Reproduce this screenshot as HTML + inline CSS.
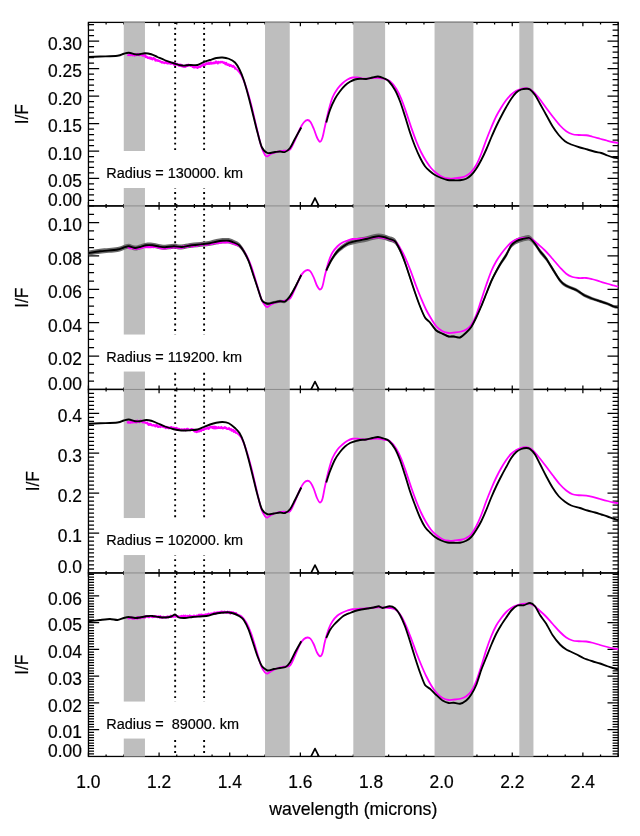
<!DOCTYPE html>
<html><head><meta charset="utf-8"><title>I/F spectra</title>
<style>html,body{margin:0;padding:0;background:#fff}svg{display:block;will-change:transform}</style></head>
<body>
<svg width="640" height="836" viewBox="0 0 640 836">
<rect width="640" height="836" fill="#fff"/>
<rect x="88.45" y="22.40" width="529.75" height="183.51" fill="none" stroke="#000" stroke-width="1.3"/>
<rect x="88.45" y="205.91" width="529.75" height="183.51" fill="none" stroke="#000" stroke-width="1.3"/>
<rect x="88.45" y="389.43" width="529.75" height="183.51" fill="none" stroke="#000" stroke-width="1.3"/>
<rect x="88.45" y="572.94" width="529.75" height="183.51" fill="none" stroke="#000" stroke-width="1.3"/>
<path d="M88.45,205.91 v-3.90 M88.45,22.40 v3.90 M106.11,205.91 v-2.00 M106.11,22.40 v2.00 M123.77,205.91 v-2.00 M123.77,22.40 v2.00 M141.42,205.91 v-2.00 M141.42,22.40 v2.00 M159.08,205.91 v-3.90 M159.08,22.40 v3.90 M176.74,205.91 v-2.00 M176.74,22.40 v2.00 M194.40,205.91 v-2.00 M194.40,22.40 v2.00 M212.06,205.91 v-2.00 M212.06,22.40 v2.00 M229.72,205.91 v-3.90 M229.72,22.40 v3.90 M247.38,205.91 v-2.00 M247.38,22.40 v2.00 M265.03,205.91 v-2.00 M265.03,22.40 v2.00 M282.69,205.91 v-2.00 M282.69,22.40 v2.00 M300.35,205.91 v-3.90 M300.35,22.40 v3.90 M318.01,205.91 v-2.00 M318.01,22.40 v2.00 M335.67,205.91 v-2.00 M335.67,22.40 v2.00 M353.32,205.91 v-2.00 M353.32,22.40 v2.00 M370.98,205.91 v-3.90 M370.98,22.40 v3.90 M388.64,205.91 v-2.00 M388.64,22.40 v2.00 M406.30,205.91 v-2.00 M406.30,22.40 v2.00 M423.96,205.91 v-2.00 M423.96,22.40 v2.00 M441.62,205.91 v-3.90 M441.62,22.40 v3.90 M459.27,205.91 v-2.00 M459.27,22.40 v2.00 M476.93,205.91 v-2.00 M476.93,22.40 v2.00 M494.59,205.91 v-2.00 M494.59,22.40 v2.00 M512.25,205.91 v-3.90 M512.25,22.40 v3.90 M529.91,205.91 v-2.00 M529.91,22.40 v2.00 M547.57,205.91 v-2.00 M547.57,22.40 v2.00 M565.23,205.91 v-2.00 M565.23,22.40 v2.00 M582.88,205.91 v-3.90 M582.88,22.40 v3.90 M600.54,205.91 v-2.00 M600.54,22.40 v2.00 M618.20,205.91 v-2.00 M618.20,22.40 v2.00 M88.45,200.42 h5.60 M618.20,200.42 h-5.60 M88.45,194.93 h5.60 M618.20,194.93 h-5.60 M88.45,189.44 h5.60 M618.20,189.44 h-5.60 M88.45,183.95 h5.60 M618.20,183.95 h-5.60 M88.45,178.46 h10.70 M618.20,178.46 h-10.70 M88.45,172.97 h5.60 M618.20,172.97 h-5.60 M88.45,167.48 h5.60 M618.20,167.48 h-5.60 M88.45,161.99 h5.60 M618.20,161.99 h-5.60 M88.45,156.50 h5.60 M618.20,156.50 h-5.60 M88.45,151.01 h10.70 M618.20,151.01 h-10.70 M88.45,145.52 h5.60 M618.20,145.52 h-5.60 M88.45,140.03 h5.60 M618.20,140.03 h-5.60 M88.45,134.54 h5.60 M618.20,134.54 h-5.60 M88.45,129.05 h5.60 M618.20,129.05 h-5.60 M88.45,123.56 h10.70 M618.20,123.56 h-10.70 M88.45,118.07 h5.60 M618.20,118.07 h-5.60 M88.45,112.58 h5.60 M618.20,112.58 h-5.60 M88.45,107.09 h5.60 M618.20,107.09 h-5.60 M88.45,101.60 h5.60 M618.20,101.60 h-5.60 M88.45,96.11 h10.70 M618.20,96.11 h-10.70 M88.45,90.62 h5.60 M618.20,90.62 h-5.60 M88.45,85.13 h5.60 M618.20,85.13 h-5.60 M88.45,79.64 h5.60 M618.20,79.64 h-5.60 M88.45,74.15 h5.60 M618.20,74.15 h-5.60 M88.45,68.66 h10.70 M618.20,68.66 h-10.70 M88.45,63.17 h5.60 M618.20,63.17 h-5.60 M88.45,57.68 h5.60 M618.20,57.68 h-5.60 M88.45,52.19 h5.60 M618.20,52.19 h-5.60 M88.45,46.70 h5.60 M618.20,46.70 h-5.60 M88.45,41.21 h10.70 M618.20,41.21 h-10.70 M88.45,35.72 h5.60 M618.20,35.72 h-5.60 M88.45,30.23 h5.60 M618.20,30.23 h-5.60 M88.45,24.74 h5.60 M618.20,24.74 h-5.60 M88.45,389.43 v-3.90 M88.45,205.91 v3.90 M106.11,389.43 v-2.00 M106.11,205.91 v2.00 M123.77,389.43 v-2.00 M123.77,205.91 v2.00 M141.42,389.43 v-2.00 M141.42,205.91 v2.00 M159.08,389.43 v-3.90 M159.08,205.91 v3.90 M176.74,389.43 v-2.00 M176.74,205.91 v2.00 M194.40,389.43 v-2.00 M194.40,205.91 v2.00 M212.06,389.43 v-2.00 M212.06,205.91 v2.00 M229.72,389.43 v-3.90 M229.72,205.91 v3.90 M247.38,389.43 v-2.00 M247.38,205.91 v2.00 M265.03,389.43 v-2.00 M265.03,205.91 v2.00 M282.69,389.43 v-2.00 M282.69,205.91 v2.00 M300.35,389.43 v-3.90 M300.35,205.91 v3.90 M318.01,389.43 v-2.00 M318.01,205.91 v2.00 M335.67,389.43 v-2.00 M335.67,205.91 v2.00 M353.32,389.43 v-2.00 M353.32,205.91 v2.00 M370.98,389.43 v-3.90 M370.98,205.91 v3.90 M388.64,389.43 v-2.00 M388.64,205.91 v2.00 M406.30,389.43 v-2.00 M406.30,205.91 v2.00 M423.96,389.43 v-2.00 M423.96,205.91 v2.00 M441.62,389.43 v-3.90 M441.62,205.91 v3.90 M459.27,389.43 v-2.00 M459.27,205.91 v2.00 M476.93,389.43 v-2.00 M476.93,205.91 v2.00 M494.59,389.43 v-2.00 M494.59,205.91 v2.00 M512.25,389.43 v-3.90 M512.25,205.91 v3.90 M529.91,389.43 v-2.00 M529.91,205.91 v2.00 M547.57,389.43 v-2.00 M547.57,205.91 v2.00 M565.23,389.43 v-2.00 M565.23,205.91 v2.00 M582.88,389.43 v-3.90 M582.88,205.91 v3.90 M600.54,389.43 v-2.00 M600.54,205.91 v2.00 M618.20,389.43 v-2.00 M618.20,205.91 v2.00 M88.45,381.09 h5.60 M618.20,381.09 h-5.60 M88.45,372.75 h5.60 M618.20,372.75 h-5.60 M88.45,364.41 h5.60 M618.20,364.41 h-5.60 M88.45,356.06 h10.70 M618.20,356.06 h-10.70 M88.45,347.73 h5.60 M618.20,347.73 h-5.60 M88.45,339.38 h5.60 M618.20,339.38 h-5.60 M88.45,331.05 h5.60 M618.20,331.05 h-5.60 M88.45,322.71 h10.70 M618.20,322.71 h-10.70 M88.45,314.37 h5.60 M618.20,314.37 h-5.60 M88.45,306.02 h5.60 M618.20,306.02 h-5.60 M88.45,297.69 h5.60 M618.20,297.69 h-5.60 M88.45,289.35 h10.70 M618.20,289.35 h-10.70 M88.45,281.00 h5.60 M618.20,281.00 h-5.60 M88.45,272.67 h5.60 M618.20,272.67 h-5.60 M88.45,264.33 h5.60 M618.20,264.33 h-5.60 M88.45,255.99 h10.70 M618.20,255.99 h-10.70 M88.45,247.65 h5.60 M618.20,247.65 h-5.60 M88.45,239.31 h5.60 M618.20,239.31 h-5.60 M88.45,230.97 h5.60 M618.20,230.97 h-5.60 M88.45,222.62 h10.70 M618.20,222.62 h-10.70 M88.45,214.29 h5.60 M618.20,214.29 h-5.60 M88.45,205.95 h5.60 M618.20,205.95 h-5.60 M88.45,572.94 v-3.90 M88.45,389.43 v3.90 M106.11,572.94 v-2.00 M106.11,389.43 v2.00 M123.77,572.94 v-2.00 M123.77,389.43 v2.00 M141.42,572.94 v-2.00 M141.42,389.43 v2.00 M159.08,572.94 v-3.90 M159.08,389.43 v3.90 M176.74,572.94 v-2.00 M176.74,389.43 v2.00 M194.40,572.94 v-2.00 M194.40,389.43 v2.00 M212.06,572.94 v-2.00 M212.06,389.43 v2.00 M229.72,572.94 v-3.90 M229.72,389.43 v3.90 M247.38,572.94 v-2.00 M247.38,389.43 v2.00 M265.03,572.94 v-2.00 M265.03,389.43 v2.00 M282.69,572.94 v-2.00 M282.69,389.43 v2.00 M300.35,572.94 v-3.90 M300.35,389.43 v3.90 M318.01,572.94 v-2.00 M318.01,389.43 v2.00 M335.67,572.94 v-2.00 M335.67,389.43 v2.00 M353.32,572.94 v-2.00 M353.32,389.43 v2.00 M370.98,572.94 v-3.90 M370.98,389.43 v3.90 M388.64,572.94 v-2.00 M388.64,389.43 v2.00 M406.30,572.94 v-2.00 M406.30,389.43 v2.00 M423.96,572.94 v-2.00 M423.96,389.43 v2.00 M441.62,572.94 v-3.90 M441.62,389.43 v3.90 M459.27,572.94 v-2.00 M459.27,389.43 v2.00 M476.93,572.94 v-2.00 M476.93,389.43 v2.00 M494.59,572.94 v-2.00 M494.59,389.43 v2.00 M512.25,572.94 v-3.90 M512.25,389.43 v3.90 M529.91,572.94 v-2.00 M529.91,389.43 v2.00 M547.57,572.94 v-2.00 M547.57,389.43 v2.00 M565.23,572.94 v-2.00 M565.23,389.43 v2.00 M582.88,572.94 v-3.90 M582.88,389.43 v3.90 M600.54,572.94 v-2.00 M600.54,389.43 v2.00 M618.20,572.94 v-2.00 M618.20,389.43 v2.00 M88.45,568.95 h5.60 M618.20,568.95 h-5.60 M88.45,564.96 h5.60 M618.20,564.96 h-5.60 M88.45,560.97 h5.60 M618.20,560.97 h-5.60 M88.45,556.98 h5.60 M618.20,556.98 h-5.60 M88.45,552.99 h5.60 M618.20,552.99 h-5.60 M88.45,549.00 h5.60 M618.20,549.00 h-5.60 M88.45,545.01 h5.60 M618.20,545.01 h-5.60 M88.45,541.02 h5.60 M618.20,541.02 h-5.60 M88.45,537.03 h5.60 M618.20,537.03 h-5.60 M88.45,533.04 h10.70 M618.20,533.04 h-10.70 M88.45,529.05 h5.60 M618.20,529.05 h-5.60 M88.45,525.06 h5.60 M618.20,525.06 h-5.60 M88.45,521.07 h5.60 M618.20,521.07 h-5.60 M88.45,517.08 h5.60 M618.20,517.08 h-5.60 M88.45,513.09 h5.60 M618.20,513.09 h-5.60 M88.45,509.10 h5.60 M618.20,509.10 h-5.60 M88.45,505.11 h5.60 M618.20,505.11 h-5.60 M88.45,501.12 h5.60 M618.20,501.12 h-5.60 M88.45,497.13 h5.60 M618.20,497.13 h-5.60 M88.45,493.14 h10.70 M618.20,493.14 h-10.70 M88.45,489.15 h5.60 M618.20,489.15 h-5.60 M88.45,485.16 h5.60 M618.20,485.16 h-5.60 M88.45,481.17 h5.60 M618.20,481.17 h-5.60 M88.45,477.18 h5.60 M618.20,477.18 h-5.60 M88.45,473.19 h5.60 M618.20,473.19 h-5.60 M88.45,469.20 h5.60 M618.20,469.20 h-5.60 M88.45,465.21 h5.60 M618.20,465.21 h-5.60 M88.45,461.22 h5.60 M618.20,461.22 h-5.60 M88.45,457.23 h5.60 M618.20,457.23 h-5.60 M88.45,453.24 h10.70 M618.20,453.24 h-10.70 M88.45,449.25 h5.60 M618.20,449.25 h-5.60 M88.45,445.26 h5.60 M618.20,445.26 h-5.60 M88.45,441.27 h5.60 M618.20,441.27 h-5.60 M88.45,437.28 h5.60 M618.20,437.28 h-5.60 M88.45,433.29 h5.60 M618.20,433.29 h-5.60 M88.45,429.30 h5.60 M618.20,429.30 h-5.60 M88.45,425.31 h5.60 M618.20,425.31 h-5.60 M88.45,421.32 h5.60 M618.20,421.32 h-5.60 M88.45,417.33 h5.60 M618.20,417.33 h-5.60 M88.45,413.34 h10.70 M618.20,413.34 h-10.70 M88.45,409.35 h5.60 M618.20,409.35 h-5.60 M88.45,405.36 h5.60 M618.20,405.36 h-5.60 M88.45,401.37 h5.60 M618.20,401.37 h-5.60 M88.45,397.38 h5.60 M618.20,397.38 h-5.60 M88.45,393.39 h5.60 M618.20,393.39 h-5.60 M88.45,756.45 v-3.90 M88.45,572.94 v3.90 M106.11,756.45 v-2.00 M106.11,572.94 v2.00 M123.77,756.45 v-2.00 M123.77,572.94 v2.00 M141.42,756.45 v-2.00 M141.42,572.94 v2.00 M159.08,756.45 v-3.90 M159.08,572.94 v3.90 M176.74,756.45 v-2.00 M176.74,572.94 v2.00 M194.40,756.45 v-2.00 M194.40,572.94 v2.00 M212.06,756.45 v-2.00 M212.06,572.94 v2.00 M229.72,756.45 v-3.90 M229.72,572.94 v3.90 M247.38,756.45 v-2.00 M247.38,572.94 v2.00 M265.03,756.45 v-2.00 M265.03,572.94 v2.00 M282.69,756.45 v-2.00 M282.69,572.94 v2.00 M300.35,756.45 v-3.90 M300.35,572.94 v3.90 M318.01,756.45 v-2.00 M318.01,572.94 v2.00 M335.67,756.45 v-2.00 M335.67,572.94 v2.00 M353.32,756.45 v-2.00 M353.32,572.94 v2.00 M370.98,756.45 v-3.90 M370.98,572.94 v3.90 M388.64,756.45 v-2.00 M388.64,572.94 v2.00 M406.30,756.45 v-2.00 M406.30,572.94 v2.00 M423.96,756.45 v-2.00 M423.96,572.94 v2.00 M441.62,756.45 v-3.90 M441.62,572.94 v3.90 M459.27,756.45 v-2.00 M459.27,572.94 v2.00 M476.93,756.45 v-2.00 M476.93,572.94 v2.00 M494.59,756.45 v-2.00 M494.59,572.94 v2.00 M512.25,756.45 v-3.90 M512.25,572.94 v3.90 M529.91,756.45 v-2.00 M529.91,572.94 v2.00 M547.57,756.45 v-2.00 M547.57,572.94 v2.00 M565.23,756.45 v-2.00 M565.23,572.94 v2.00 M582.88,756.45 v-3.90 M582.88,572.94 v3.90 M600.54,756.45 v-2.00 M600.54,572.94 v2.00 M618.20,756.45 v-2.00 M618.20,572.94 v2.00 M88.45,753.77 h5.60 M618.20,753.77 h-5.60 M88.45,751.09 h5.60 M618.20,751.09 h-5.60 M88.45,748.42 h5.60 M618.20,748.42 h-5.60 M88.45,745.74 h5.60 M618.20,745.74 h-5.60 M88.45,743.06 h5.60 M618.20,743.06 h-5.60 M88.45,740.38 h5.60 M618.20,740.38 h-5.60 M88.45,737.70 h5.60 M618.20,737.70 h-5.60 M88.45,735.03 h5.60 M618.20,735.03 h-5.60 M88.45,732.35 h5.60 M618.20,732.35 h-5.60 M88.45,729.67 h10.70 M618.20,729.67 h-10.70 M88.45,726.99 h5.60 M618.20,726.99 h-5.60 M88.45,724.31 h5.60 M618.20,724.31 h-5.60 M88.45,721.64 h5.60 M618.20,721.64 h-5.60 M88.45,718.96 h5.60 M618.20,718.96 h-5.60 M88.45,716.28 h5.60 M618.20,716.28 h-5.60 M88.45,713.60 h5.60 M618.20,713.60 h-5.60 M88.45,710.92 h5.60 M618.20,710.92 h-5.60 M88.45,708.25 h5.60 M618.20,708.25 h-5.60 M88.45,705.57 h5.60 M618.20,705.57 h-5.60 M88.45,702.89 h10.70 M618.20,702.89 h-10.70 M88.45,700.21 h5.60 M618.20,700.21 h-5.60 M88.45,697.53 h5.60 M618.20,697.53 h-5.60 M88.45,694.86 h5.60 M618.20,694.86 h-5.60 M88.45,692.18 h5.60 M618.20,692.18 h-5.60 M88.45,689.50 h5.60 M618.20,689.50 h-5.60 M88.45,686.82 h5.60 M618.20,686.82 h-5.60 M88.45,684.14 h5.60 M618.20,684.14 h-5.60 M88.45,681.47 h5.60 M618.20,681.47 h-5.60 M88.45,678.79 h5.60 M618.20,678.79 h-5.60 M88.45,676.11 h10.70 M618.20,676.11 h-10.70 M88.45,673.43 h5.60 M618.20,673.43 h-5.60 M88.45,670.75 h5.60 M618.20,670.75 h-5.60 M88.45,668.08 h5.60 M618.20,668.08 h-5.60 M88.45,665.40 h5.60 M618.20,665.40 h-5.60 M88.45,662.72 h5.60 M618.20,662.72 h-5.60 M88.45,660.04 h5.60 M618.20,660.04 h-5.60 M88.45,657.36 h5.60 M618.20,657.36 h-5.60 M88.45,654.69 h5.60 M618.20,654.69 h-5.60 M88.45,652.01 h5.60 M618.20,652.01 h-5.60 M88.45,649.33 h10.70 M618.20,649.33 h-10.70 M88.45,646.65 h5.60 M618.20,646.65 h-5.60 M88.45,643.97 h5.60 M618.20,643.97 h-5.60 M88.45,641.30 h5.60 M618.20,641.30 h-5.60 M88.45,638.62 h5.60 M618.20,638.62 h-5.60 M88.45,635.94 h5.60 M618.20,635.94 h-5.60 M88.45,633.26 h5.60 M618.20,633.26 h-5.60 M88.45,630.58 h5.60 M618.20,630.58 h-5.60 M88.45,627.91 h5.60 M618.20,627.91 h-5.60 M88.45,625.23 h5.60 M618.20,625.23 h-5.60 M88.45,622.55 h10.70 M618.20,622.55 h-10.70 M88.45,619.87 h5.60 M618.20,619.87 h-5.60 M88.45,617.19 h5.60 M618.20,617.19 h-5.60 M88.45,614.52 h5.60 M618.20,614.52 h-5.60 M88.45,611.84 h5.60 M618.20,611.84 h-5.60 M88.45,609.16 h5.60 M618.20,609.16 h-5.60 M88.45,606.48 h5.60 M618.20,606.48 h-5.60 M88.45,603.80 h5.60 M618.20,603.80 h-5.60 M88.45,601.13 h5.60 M618.20,601.13 h-5.60 M88.45,598.45 h5.60 M618.20,598.45 h-5.60 M88.45,595.77 h10.70 M618.20,595.77 h-10.70 M88.45,593.09 h5.60 M618.20,593.09 h-5.60 M88.45,590.41 h5.60 M618.20,590.41 h-5.60 M88.45,587.74 h5.60 M618.20,587.74 h-5.60 M88.45,585.06 h5.60 M618.20,585.06 h-5.60 M88.45,582.38 h5.60 M618.20,582.38 h-5.60 M88.45,579.70 h5.60 M618.20,579.70 h-5.60 M88.45,577.02 h5.60 M618.20,577.02 h-5.60 M88.45,574.35 h5.60 M618.20,574.35 h-5.60" stroke="#000" stroke-width="1.25" fill="none"/>
<rect x="123.77" y="21.55" width="21.19" height="735.00" fill="#bebebe"/>
<rect x="265.03" y="21.55" width="24.72" height="735.00" fill="#bebebe"/>
<rect x="353.32" y="21.55" width="31.79" height="735.00" fill="#bebebe"/>
<rect x="434.55" y="21.55" width="38.85" height="735.00" fill="#bebebe"/>
<rect x="519.31" y="21.55" width="14.13" height="735.00" fill="#bebebe"/>
<path d="M123.77,22.40 H144.96" stroke="#000" stroke-opacity="0.25" stroke-width="1.30"/>
<path d="M123.77,205.91 H144.96" stroke="#000" stroke-opacity="0.45" stroke-width="0.60"/>
<path d="M123.77,389.43 H144.96" stroke="#000" stroke-opacity="0.45" stroke-width="0.60"/>
<path d="M123.77,572.94 H144.96" stroke="#000" stroke-opacity="0.45" stroke-width="0.60"/>
<path d="M265.03,22.40 H289.76" stroke="#000" stroke-opacity="0.25" stroke-width="1.30"/>
<path d="M265.03,205.91 H289.76" stroke="#000" stroke-opacity="0.45" stroke-width="0.60"/>
<path d="M265.03,389.43 H289.76" stroke="#000" stroke-opacity="0.45" stroke-width="0.60"/>
<path d="M265.03,572.94 H289.76" stroke="#000" stroke-opacity="0.45" stroke-width="0.60"/>
<path d="M353.32,22.40 H385.11" stroke="#000" stroke-opacity="0.25" stroke-width="1.30"/>
<path d="M353.32,205.91 H385.11" stroke="#000" stroke-opacity="0.45" stroke-width="0.60"/>
<path d="M353.32,389.43 H385.11" stroke="#000" stroke-opacity="0.45" stroke-width="0.60"/>
<path d="M353.32,572.94 H385.11" stroke="#000" stroke-opacity="0.45" stroke-width="0.60"/>
<path d="M434.55,22.40 H473.40" stroke="#000" stroke-opacity="0.25" stroke-width="1.30"/>
<path d="M434.55,205.91 H473.40" stroke="#000" stroke-opacity="0.45" stroke-width="0.60"/>
<path d="M434.55,389.43 H473.40" stroke="#000" stroke-opacity="0.45" stroke-width="0.60"/>
<path d="M434.55,572.94 H473.40" stroke="#000" stroke-opacity="0.45" stroke-width="0.60"/>
<path d="M519.31,22.40 H533.44" stroke="#000" stroke-opacity="0.25" stroke-width="1.30"/>
<path d="M519.31,205.91 H533.44" stroke="#000" stroke-opacity="0.45" stroke-width="0.60"/>
<path d="M519.31,389.43 H533.44" stroke="#000" stroke-opacity="0.45" stroke-width="0.60"/>
<path d="M519.31,572.94 H533.44" stroke="#000" stroke-opacity="0.45" stroke-width="0.60"/>
<path d="M175.15,22.15 V756.45" stroke="#000" stroke-width="1.9" stroke-dasharray="1.9,3.58" fill="none"/>
<path d="M204.11,22.15 V756.45" stroke="#000" stroke-width="1.9" stroke-dasharray="1.9,3.58" fill="none"/>
<rect x="100.00" y="151.01" width="161.50" height="37.00" fill="#fff"/>
<rect x="100.00" y="334.53" width="161.50" height="37.00" fill="#fff"/>
<rect x="100.00" y="518.04" width="161.50" height="37.00" fill="#fff"/>
<rect x="100.00" y="701.55" width="161.50" height="37.00" fill="#fff"/>
<path d="M127.50,54.53L128.20,55.03L128.90,54.67L129.60,55.05L130.30,55.04L131.00,53.98L131.70,53.84L132.40,55.28L133.10,54.19L133.80,54.10L134.50,55.43L135.20,54.45L135.90,55.11L136.60,54.46L137.30,54.75L138.00,53.87L138.70,54.74L139.40,55.16L140.10,54.54L140.80,54.93L141.50,55.01L142.20,54.20L142.90,55.72L143.60,55.70L144.30,55.46L145.00,55.26L145.70,57.04L146.40,56.57L147.10,57.23L147.80,57.74L148.50,57.65L149.20,58.24L149.90,57.51L150.60,58.46L151.30,58.03L152.00,59.13L152.70,59.26L153.40,58.14L154.10,58.48L154.80,58.91L155.50,60.54L156.20,59.87L156.90,60.49L157.60,60.18L158.30,60.83L159.00,60.89L159.70,61.11L160.40,61.71L161.10,61.80L161.80,62.47L162.50,62.16L163.20,62.70L163.90,62.66L164.60,63.00L165.30,62.51L166.00,61.69L166.70,63.04L167.40,63.32L168.10,63.35L168.80,62.88L169.50,63.28L170.20,62.52L170.90,63.78L171.60,63.45L172.30,63.07L173.00,62.81L173.70,64.38L174.40,64.76L175.10,63.29L175.80,64.75L176.50,64.24L177.20,63.96L177.90,64.40L178.60,65.44L179.30,65.82L180.00,64.51L180.70,65.73L181.40,64.89L182.10,66.29L182.80,65.68L183.50,66.62L184.20,66.75L184.90,65.85L185.60,66.69L186.30,65.40L187.00,64.94L187.70,65.83L188.40,64.76L189.10,65.02L189.80,65.35L190.50,65.83L191.20,65.20L191.90,65.18L192.60,66.86L193.30,66.04L194.00,67.39L194.70,67.47L195.40,66.72L196.10,67.06L196.80,67.35L197.50,67.76L198.20,67.34L198.90,66.93L199.60,66.71L200.30,66.95L201.00,65.83L201.70,65.36L202.40,65.54L203.10,64.34L203.80,64.13L204.50,65.24L205.20,64.31L205.90,64.24L206.60,63.16L207.30,63.78L208.00,63.96L208.70,62.84L209.40,63.80L210.10,63.72L210.80,62.57L211.50,63.48L212.20,63.07L212.90,63.34L213.60,62.63L214.30,63.16L215.00,63.10L215.70,61.69L216.40,61.69L217.10,62.77L217.80,63.26L218.50,61.96L219.20,62.30L219.90,62.52L220.60,62.00L221.30,62.05L222.00,61.93L222.70,62.10L223.40,62.82L224.10,62.59L224.80,63.04L225.50,64.06L226.20,63.03L226.90,64.31L227.60,64.92L228.30,64.46L229.00,64.59L229.70,65.88L230.40,65.11L231.10,65.27L231.80,65.96L232.50,66.68L233.20,65.92L233.90,66.80L234.60,67.31L235.30,68.69L236.00,68.47L236.25,68.75" stroke="#ff00ff" stroke-width="2.3" fill="none" stroke-linejoin="round"/>
<path d="M236.25,68.75C237.08,69.79 239.58,71.88 241.25,75.00C242.92,78.12 244.58,82.50 246.25,87.50C247.92,92.50 249.58,98.54 251.25,105.00C252.92,111.46 254.58,119.38 256.25,126.25C257.92,133.12 259.79,141.46 261.25,146.25C262.71,151.04 263.96,153.33 265.00,155.00C266.04,156.67 266.46,156.46 267.50,156.25C268.54,156.04 269.58,154.50 271.25,153.75C272.92,153.00 275.42,152.25 277.50,151.75C279.58,151.25 281.67,151.12 283.75,150.75C285.83,150.38 288.12,151.29 290.00,149.50C291.88,147.71 293.33,143.46 295.00,140.00C296.67,136.54 298.54,131.67 300.00,128.75C301.46,125.83 302.50,123.96 303.75,122.50C305.00,121.04 306.38,120.08 307.50,120.00C308.62,119.92 309.46,120.54 310.50,122.00C311.54,123.46 312.67,126.17 313.75,128.75C314.83,131.33 315.96,135.33 317.00,137.50C318.04,139.67 319.08,141.75 320.00,141.75C320.92,141.75 321.67,140.08 322.50,137.50C323.33,134.92 323.96,130.83 325.00,126.25C326.04,121.67 327.50,114.79 328.75,110.00C330.00,105.21 331.04,101.04 332.50,97.50C333.96,93.96 335.83,91.12 337.50,88.75C339.17,86.38 340.83,84.79 342.50,83.25C344.17,81.71 345.83,80.46 347.50,79.50C349.17,78.54 350.83,77.83 352.50,77.50C354.17,77.17 355.42,77.29 357.50,77.50C359.58,77.71 362.50,78.67 365.00,78.75C367.50,78.83 370.00,78.12 372.50,78.00C375.00,77.88 377.92,77.79 380.00,78.00C382.08,78.21 383.33,78.71 385.00,79.25C386.67,79.79 388.12,79.67 390.00,81.25C391.88,82.83 394.38,85.83 396.25,88.75C398.12,91.67 399.58,94.79 401.25,98.75C402.92,102.71 404.58,107.71 406.25,112.50C407.92,117.29 409.58,122.71 411.25,127.50C412.92,132.29 414.58,137.08 416.25,141.25C417.92,145.42 419.58,149.17 421.25,152.50C422.92,155.83 424.58,158.62 426.25,161.25C427.92,163.88 429.58,166.29 431.25,168.25C432.92,170.21 434.38,171.54 436.25,173.00C438.12,174.46 440.42,176.08 442.50,177.00C444.58,177.92 446.67,178.29 448.75,178.50C450.83,178.71 452.92,178.42 455.00,178.25C457.08,178.08 459.38,177.92 461.25,177.50C463.12,177.08 464.58,176.67 466.25,175.75C467.92,174.83 469.58,173.79 471.25,172.00C472.92,170.21 474.58,168.04 476.25,165.00C477.92,161.96 479.58,157.92 481.25,153.75C482.92,149.58 484.58,144.38 486.25,140.00C487.92,135.62 489.58,131.46 491.25,127.50C492.92,123.54 494.58,119.58 496.25,116.25C497.92,112.92 499.58,110.21 501.25,107.50C502.92,104.79 504.58,102.17 506.25,100.00C507.92,97.83 509.58,96.04 511.25,94.50C512.92,92.96 514.58,91.71 516.25,90.75C517.92,89.79 519.58,89.17 521.25,88.75C522.92,88.33 524.58,88.04 526.25,88.25C527.92,88.46 529.38,88.67 531.25,90.00C533.12,91.33 535.21,93.54 537.50,96.25C539.79,98.96 542.50,102.92 545.00,106.25C547.50,109.58 550.00,113.04 552.50,116.25C555.00,119.46 557.71,123.00 560.00,125.50C562.29,128.00 564.17,129.79 566.25,131.25C568.33,132.71 570.42,133.62 572.50,134.25C574.58,134.88 576.46,134.83 578.75,135.00C581.04,135.17 583.96,134.96 586.25,135.25C588.54,135.54 590.21,136.17 592.50,136.75C594.79,137.33 597.50,138.08 600.00,138.75C602.50,139.42 605.21,140.17 607.50,140.75C609.79,141.33 611.96,141.88 613.75,142.25C615.54,142.62 617.50,142.88 618.25,143.00" stroke="#ff00ff" stroke-width="1.8" fill="none" stroke-linejoin="round"/>
<path d="M88.75,57.00C90.62,56.92 95.21,56.71 100.00,56.50C104.79,56.29 113.54,56.21 117.50,55.75C121.46,55.29 121.88,54.25 123.75,53.75C125.62,53.25 126.88,52.67 128.75,52.75C130.62,52.83 133.33,53.96 135.00,54.25C136.67,54.54 137.08,54.67 138.75,54.50C140.42,54.33 142.92,53.29 145.00,53.25C147.08,53.21 149.17,53.62 151.25,54.25C153.33,54.88 155.21,56.00 157.50,57.00C159.79,58.00 162.29,59.21 165.00,60.25C167.71,61.29 170.83,62.38 173.75,63.25C176.67,64.12 179.79,65.21 182.50,65.50C185.21,65.79 187.50,65.08 190.00,65.00C192.50,64.92 195.21,65.50 197.50,65.00C199.79,64.50 201.67,62.83 203.75,62.00C205.83,61.17 207.92,60.67 210.00,60.00C212.08,59.33 214.17,58.42 216.25,58.00C218.33,57.58 220.42,57.38 222.50,57.50C224.58,57.62 226.67,57.92 228.75,58.75C230.83,59.58 233.21,60.71 235.00,62.50C236.79,64.29 238.04,66.58 239.50,69.50C240.96,72.42 242.21,75.33 243.75,80.00C245.29,84.67 247.08,91.25 248.75,97.50C250.42,103.75 252.29,111.67 253.75,117.50C255.21,123.33 256.12,127.50 257.50,132.50C258.88,137.50 260.33,144.08 262.00,147.50C263.67,150.92 265.33,152.25 267.50,153.00C269.67,153.75 272.92,152.25 275.00,152.00C277.08,151.75 278.33,151.50 280.00,151.50C281.67,151.50 283.33,152.58 285.00,152.00C286.67,151.42 288.33,150.21 290.00,148.00C291.67,145.79 293.12,142.17 295.00,138.75C296.88,135.33 300.21,129.38 301.25,127.50" stroke="#000" stroke-width="1.85" fill="none" stroke-linejoin="round"/>
<path d="M326.25,122.50C326.88,120.42 328.54,113.96 330.00,110.00C331.46,106.04 333.33,101.88 335.00,98.75C336.67,95.62 338.33,93.46 340.00,91.25C341.67,89.04 343.33,87.08 345.00,85.50C346.67,83.92 348.33,82.75 350.00,81.75C351.67,80.75 353.33,80.00 355.00,79.50C356.67,79.00 358.12,78.83 360.00,78.75C361.88,78.67 364.17,79.21 366.25,79.00C368.33,78.79 370.54,77.92 372.50,77.50C374.46,77.08 376.12,76.38 378.00,76.50C379.88,76.62 381.96,77.46 383.75,78.25C385.54,79.04 386.88,79.29 388.75,81.25C390.62,83.21 393.12,86.67 395.00,90.00C396.88,93.33 398.33,96.88 400.00,101.25C401.67,105.62 403.33,111.04 405.00,116.25C406.67,121.46 408.33,127.50 410.00,132.50C411.67,137.50 413.33,142.08 415.00,146.25C416.67,150.42 418.33,154.17 420.00,157.50C421.67,160.83 423.33,163.96 425.00,166.25C426.67,168.54 428.33,169.79 430.00,171.25C431.67,172.71 433.12,173.88 435.00,175.00C436.88,176.12 439.17,177.17 441.25,178.00C443.33,178.83 445.42,179.62 447.50,180.00C449.58,180.38 451.67,180.21 453.75,180.25C455.83,180.29 457.92,180.50 460.00,180.25C462.08,180.00 464.38,179.62 466.25,178.75C468.12,177.88 469.58,176.67 471.25,175.00C472.92,173.33 474.58,171.25 476.25,168.75C477.92,166.25 479.58,163.21 481.25,160.00C482.92,156.79 484.58,153.25 486.25,149.50C487.92,145.75 489.58,141.38 491.25,137.50C492.92,133.62 494.58,129.79 496.25,126.25C497.92,122.71 499.58,119.46 501.25,116.25C502.92,113.04 504.58,109.92 506.25,107.00C507.92,104.08 509.58,101.17 511.25,98.75C512.92,96.33 514.58,94.04 516.25,92.50C517.92,90.96 519.58,90.12 521.25,89.50C522.92,88.88 524.79,88.75 526.25,88.75C527.71,88.75 528.54,88.46 530.00,89.50C531.46,90.54 533.33,92.62 535.00,95.00C536.67,97.38 538.12,100.42 540.00,103.75C541.88,107.08 544.17,111.25 546.25,115.00C548.33,118.75 550.42,122.92 552.50,126.25C554.58,129.58 556.67,132.50 558.75,135.00C560.83,137.50 562.92,139.67 565.00,141.25C567.08,142.83 568.75,143.46 571.25,144.50C573.75,145.54 577.29,146.67 580.00,147.50C582.71,148.33 585.00,148.79 587.50,149.50C590.00,150.21 592.71,151.17 595.00,151.75C597.29,152.33 599.17,152.38 601.25,153.00C603.33,153.62 605.42,154.75 607.50,155.50C609.58,156.25 611.96,157.04 613.75,157.50C615.54,157.96 617.50,158.12 618.25,158.25" stroke="#000" stroke-width="1.85" fill="none" stroke-linejoin="round"/>
<path d="M88.75,250.57C90.62,250.27 95.21,249.38 100.00,248.79C104.79,248.20 113.54,247.65 117.50,247.01C121.46,246.37 121.88,245.53 123.75,244.97C125.62,244.42 126.88,243.62 128.75,243.70C130.62,243.79 133.12,245.36 135.00,245.48C136.88,245.61 138.12,244.93 140.00,244.46C141.88,244.00 144.17,242.98 146.25,242.68C148.33,242.39 150.42,242.47 152.50,242.68C154.58,242.90 156.67,243.62 158.75,243.96C160.83,244.30 162.50,244.76 165.00,244.72C167.50,244.68 171.04,243.74 173.75,243.70C176.46,243.66 178.54,244.59 181.25,244.46C183.96,244.34 187.29,243.32 190.00,242.94C192.71,242.56 195.21,242.43 197.50,242.17C199.79,241.92 201.67,241.67 203.75,241.41C205.83,241.16 207.92,241.03 210.00,240.65C212.08,240.27 214.17,239.55 216.25,239.12C218.33,238.70 220.42,238.27 222.50,238.10C224.58,237.93 226.67,237.72 228.75,238.10C230.83,238.49 233.21,239.59 235.00,240.39C236.79,241.20 238.04,241.54 239.50,242.94C240.96,244.34 242.21,246.12 243.75,248.79C245.29,251.46 247.08,254.73 248.75,258.97C250.42,263.21 252.29,269.78 253.75,274.24C255.21,278.69 256.12,281.57 257.50,285.69C258.88,289.80 260.33,296.16 262.00,298.92C263.67,301.67 265.54,301.89 267.50,302.22C269.46,302.56 271.67,301.38 273.75,300.95C275.83,300.53 278.12,299.85 280.00,299.68C281.88,299.51 283.33,300.78 285.00,299.93C286.67,299.09 288.33,296.97 290.00,294.59C291.67,292.22 293.12,289.29 295.00,285.69C296.88,282.08 300.21,275.08 301.25,272.96L301.25,277.04C300.21,279.08 296.88,285.84 295.00,289.31C293.12,292.79 291.67,295.62 290.00,297.91C288.33,300.20 286.67,302.25 285.00,303.07C283.33,303.88 281.88,302.66 280.00,302.82C278.12,302.98 275.83,303.64 273.75,304.05C271.67,304.46 269.46,305.60 267.50,305.28C265.54,304.95 263.67,304.74 262.00,302.08C260.33,299.42 258.88,293.28 257.50,289.31C256.12,285.34 255.21,282.56 253.75,278.26C252.29,273.97 250.42,267.62 248.75,263.53C247.08,259.44 245.29,256.29 243.75,253.71C242.21,251.13 240.96,249.41 239.50,248.06C238.04,246.71 236.79,246.38 235.00,245.61C233.21,244.83 230.83,243.76 228.75,243.40C226.67,243.03 224.58,243.23 222.50,243.40C220.42,243.56 218.33,243.97 216.25,244.38C214.17,244.79 212.08,245.48 210.00,245.85C207.92,246.22 205.83,246.34 203.75,246.59C201.67,246.83 199.79,247.08 197.50,247.33C195.21,247.57 192.71,247.69 190.00,248.06C187.29,248.43 183.96,249.41 181.25,249.54C178.54,249.66 176.46,248.76 173.75,248.80C171.04,248.84 167.50,249.74 165.00,249.78C162.50,249.82 160.83,249.37 158.75,249.04C156.67,248.72 154.58,248.02 152.50,247.82C150.42,247.61 148.33,247.53 146.25,247.82C144.17,248.10 141.88,249.08 140.00,249.54C138.12,249.99 136.88,250.64 135.00,250.52C133.12,250.39 130.62,248.88 128.75,248.80C126.88,248.72 125.62,249.49 123.75,250.03C121.88,250.56 121.46,251.38 117.50,251.99C113.54,252.60 104.79,253.14 100.00,253.71C95.21,254.28 90.62,255.14 88.75,255.43Z" fill="#6a6a6a" stroke="none"/>
<path d="M326.25,268.38C326.88,267.03 328.75,262.66 330.00,260.24C331.25,257.82 332.50,255.79 333.75,253.88C335.00,251.97 336.04,250.36 337.50,248.79C338.96,247.22 340.62,245.86 342.50,244.46C344.38,243.07 346.67,241.37 348.75,240.39C350.83,239.42 352.92,239.12 355.00,238.61C357.08,238.10 359.17,237.76 361.25,237.34C363.33,236.92 365.42,236.58 367.50,236.07C369.58,235.56 371.88,234.71 373.75,234.29C375.62,233.86 377.08,233.52 378.75,233.52C380.42,233.52 382.08,233.86 383.75,234.29C385.42,234.71 386.88,235.35 388.75,236.07C390.62,236.79 393.12,236.70 395.00,238.61C396.88,240.52 398.33,243.91 400.00,247.52C401.67,251.12 403.33,255.58 405.00,260.24C406.67,264.91 408.33,270.42 410.00,275.51C411.67,280.60 413.33,285.90 415.00,290.77C416.67,295.65 418.33,300.53 420.00,304.77C421.67,309.01 423.33,313.46 425.00,316.22C426.67,318.98 428.12,319.10 430.00,321.31C431.88,323.51 434.17,327.54 436.25,329.45C438.33,331.36 440.42,331.74 442.50,332.76C444.58,333.78 446.88,335.09 448.75,335.56C450.62,336.02 451.88,335.39 453.75,335.56C455.62,335.73 457.92,337.25 460.00,336.58C462.08,335.90 464.38,333.27 466.25,331.49C468.12,329.71 469.58,328.43 471.25,325.89C472.92,323.34 474.58,319.74 476.25,316.22C477.92,312.70 479.58,308.80 481.25,304.77C482.92,300.74 484.58,296.29 486.25,292.05C487.92,287.81 489.58,283.14 491.25,279.32C492.92,275.51 494.58,272.33 496.25,269.15C497.92,265.97 499.58,263.00 501.25,260.24C502.92,257.48 504.58,255.49 506.25,252.61C507.92,249.72 509.58,245.27 511.25,242.94C512.92,240.61 514.38,239.72 516.25,238.61C518.12,237.51 520.29,236.87 522.50,236.32C524.71,235.77 527.42,234.50 529.50,235.30C531.58,236.11 533.25,238.91 535.00,241.16C536.75,243.40 538.12,246.25 540.00,248.79C541.88,251.33 544.17,253.46 546.25,256.42C548.33,259.39 550.21,262.91 552.50,266.60C554.79,270.29 557.71,275.68 560.00,278.56C562.29,281.44 563.54,282.29 566.25,283.90C568.96,285.52 573.33,286.66 576.25,288.23C579.17,289.80 581.04,291.83 583.75,293.32C586.46,294.80 589.79,296.08 592.50,297.14C595.21,298.20 597.50,298.83 600.00,299.68C602.50,300.53 605.21,301.33 607.50,302.22C609.79,303.12 611.96,304.39 613.75,305.02C615.54,305.66 617.50,305.87 618.25,306.04L618.25,308.96C617.50,308.79 615.54,308.59 613.75,307.98C611.96,307.36 609.79,306.13 607.50,305.28C605.21,304.42 602.50,303.64 600.00,302.82C597.50,302.00 595.21,301.39 592.50,300.36C589.79,299.34 586.46,298.11 583.75,296.68C581.04,295.25 579.17,293.28 576.25,291.77C573.33,290.26 568.96,289.15 566.25,287.60C563.54,286.04 562.29,285.22 560.00,282.44C557.71,279.66 554.79,274.46 552.50,270.90C550.21,267.34 548.33,263.94 546.25,261.08C544.17,258.21 541.88,256.17 540.00,253.71C538.12,251.25 536.75,248.51 535.00,246.34C533.25,244.17 531.58,241.47 529.50,240.70C527.42,239.92 524.71,241.15 522.50,241.68C520.29,242.21 518.12,242.82 516.25,243.89C514.38,244.95 512.92,245.81 511.25,248.06C509.58,250.31 507.92,254.61 506.25,257.39C504.58,260.18 502.92,262.10 501.25,264.76C499.58,267.42 497.92,270.28 496.25,273.35C494.58,276.42 492.92,279.49 491.25,283.18C489.58,286.86 487.92,291.36 486.25,295.45C484.58,299.55 482.92,303.84 481.25,307.73C479.58,311.62 477.92,315.38 476.25,318.78C474.58,322.18 472.92,325.66 471.25,328.11C469.58,330.57 468.12,331.79 466.25,333.51C464.38,335.23 462.08,337.77 460.00,338.42C457.92,339.08 455.62,337.61 453.75,337.44C451.88,337.28 450.62,337.89 448.75,337.44C446.88,336.99 444.58,335.72 442.50,334.74C440.42,333.76 438.33,333.39 436.25,331.55C434.17,329.71 431.88,325.82 430.00,323.69C428.12,321.56 426.67,321.44 425.00,318.78C423.33,316.12 421.67,311.82 420.00,307.73C418.33,303.64 416.67,298.93 415.00,294.23C413.33,289.52 411.67,284.40 410.00,279.49C408.33,274.58 406.67,269.26 405.00,264.76C403.33,260.26 401.67,255.96 400.00,252.48C398.33,249.00 396.88,245.73 395.00,243.89C393.12,242.05 390.62,242.13 388.75,241.43C386.88,240.74 385.42,240.12 383.75,239.71C382.08,239.30 380.42,238.98 378.75,238.98C377.08,238.98 375.62,239.30 373.75,239.71C371.88,240.12 369.58,240.94 367.50,241.43C365.42,241.92 363.33,242.25 361.25,242.66C359.17,243.07 357.08,243.40 355.00,243.89C352.92,244.38 350.83,244.67 348.75,245.61C346.67,246.55 344.38,248.18 342.50,249.54C340.62,250.89 338.96,252.20 337.50,253.71C336.04,255.22 335.00,256.78 333.75,258.62C332.50,260.46 331.25,262.43 330.00,264.76C328.75,267.09 326.88,271.31 326.25,272.62Z" fill="#6a6a6a" stroke="none"/>
<path d="M127.50,248.00L128.20,247.13L128.90,247.46L129.60,247.99L130.30,248.41L131.00,247.90L131.70,247.68L132.40,247.62L133.10,248.29L133.80,247.91L134.50,248.86L135.20,248.95L135.90,247.97L136.60,248.03L137.30,248.70L138.00,248.40L138.70,248.56L139.40,247.84L140.10,247.46L140.80,247.52L141.50,248.05L142.20,247.15L142.90,247.09L143.60,247.02L144.30,246.86L145.00,246.67L145.70,247.22L146.40,246.02L147.10,245.81L147.80,247.12L148.50,247.03L149.20,247.18L149.90,246.41L150.60,247.13L151.30,247.10L152.00,246.11L152.70,246.88L153.40,247.12L154.10,246.98L154.80,246.89L155.50,246.68L156.20,246.87L156.90,246.82L157.60,246.71L158.30,247.55L159.00,247.22L159.70,248.01L160.40,247.00L161.10,248.25L161.80,248.02L162.50,248.39L163.20,248.41L163.90,248.47L164.60,248.08L165.30,247.28L166.00,248.23L166.70,247.35L167.40,247.45L168.10,247.87L168.80,247.60L169.50,247.36L170.20,248.02L170.90,247.48L171.60,247.02L172.30,246.82L173.00,247.59L173.70,246.97L174.40,247.44L175.10,246.88L175.80,246.71L176.50,247.23L177.20,247.67L177.90,246.82L178.60,247.73L179.30,247.96L180.00,247.85L180.70,247.92L181.40,246.78L182.10,247.53L182.80,247.74L183.50,246.48L184.20,246.67L184.90,246.55L185.60,246.79L186.30,246.53L187.00,246.48L187.70,246.78L188.40,245.58L189.10,245.53L189.80,245.51L190.50,245.44L191.20,245.32L191.90,246.54L192.60,246.32L193.30,245.20L194.00,245.74L194.70,245.43L195.40,245.38L196.10,245.39L196.80,245.75L197.50,245.62L198.20,245.19L198.90,244.84L199.60,244.92L200.30,244.53L201.00,245.02L201.70,245.13L202.40,244.55L203.10,244.02L203.80,244.05L204.50,244.26L205.20,244.53L205.90,244.72L206.60,244.10L207.30,244.64L208.00,244.33L208.70,244.01L209.40,243.87L210.10,243.97L210.80,244.12L211.50,243.59L212.20,243.83L212.90,243.37L213.60,242.92L214.30,243.19L215.00,243.27L215.70,242.26L216.40,242.63L217.10,242.54L217.80,243.10L218.50,243.09L219.20,242.22L219.90,242.87L220.60,242.64L221.30,241.81L222.00,242.01L222.70,241.47L223.40,242.44L224.10,242.23L224.80,242.54L225.50,242.41L226.20,242.23L226.90,242.33L227.60,242.09L228.30,241.44L229.00,242.18L229.70,241.53L230.40,241.89L231.10,242.94L231.80,242.08L232.50,242.31L233.20,242.53L233.90,243.95L234.60,243.29L235.30,243.39L236.00,244.86L236.25,244.50" stroke="#ff00ff" stroke-width="2.3" fill="none" stroke-linejoin="round"/>
<path d="M236.25,244.50C237.08,245.00 239.58,245.75 241.25,247.50C242.92,249.25 244.58,251.88 246.25,255.00C247.92,258.12 249.58,261.67 251.25,266.25C252.92,270.83 254.58,277.08 256.25,282.50C257.92,287.92 259.79,294.92 261.25,298.75C262.71,302.58 263.96,304.12 265.00,305.50C266.04,306.88 266.46,307.17 267.50,307.00C268.54,306.83 269.58,305.33 271.25,304.50C272.92,303.67 275.42,302.62 277.50,302.00C279.58,301.38 281.67,301.29 283.75,300.75C285.83,300.21 288.12,300.75 290.00,298.75C291.88,296.75 293.33,292.29 295.00,288.75C296.67,285.21 298.54,280.29 300.00,277.50C301.46,274.71 302.50,273.25 303.75,272.00C305.00,270.75 306.38,270.08 307.50,270.00C308.62,269.92 309.46,270.25 310.50,271.50C311.54,272.75 312.67,275.12 313.75,277.50C314.83,279.88 315.96,283.75 317.00,285.75C318.04,287.75 319.08,289.42 320.00,289.50C320.92,289.58 321.67,288.67 322.50,286.25C323.33,283.83 323.96,279.17 325.00,275.00C326.04,270.83 327.50,265.00 328.75,261.25C330.00,257.50 331.04,255.00 332.50,252.50C333.96,250.00 335.83,247.92 337.50,246.25C339.17,244.58 340.83,243.46 342.50,242.50C344.17,241.54 345.83,241.08 347.50,240.50C349.17,239.92 350.42,239.29 352.50,239.00C354.58,238.71 357.50,238.88 360.00,238.75C362.50,238.62 365.00,238.46 367.50,238.25C370.00,238.04 372.92,237.62 375.00,237.50C377.08,237.38 378.33,237.38 380.00,237.50C381.67,237.62 383.33,237.92 385.00,238.25C386.67,238.58 388.12,238.79 390.00,239.50C391.88,240.21 394.38,240.75 396.25,242.50C398.12,244.25 399.58,247.08 401.25,250.00C402.92,252.92 404.58,256.25 406.25,260.00C407.92,263.75 409.58,268.12 411.25,272.50C412.92,276.88 414.58,281.88 416.25,286.25C417.92,290.62 419.58,294.79 421.25,298.75C422.92,302.71 424.58,306.67 426.25,310.00C427.92,313.33 429.58,316.04 431.25,318.75C432.92,321.46 434.38,324.17 436.25,326.25C438.12,328.33 440.42,330.12 442.50,331.25C444.58,332.38 446.67,332.79 448.75,333.00C450.83,333.21 452.92,332.75 455.00,332.50C457.08,332.25 459.38,332.00 461.25,331.50C463.12,331.00 464.58,330.58 466.25,329.50C467.92,328.42 469.58,327.42 471.25,325.00C472.92,322.58 474.58,319.17 476.25,315.00C477.92,310.83 479.58,305.00 481.25,300.00C482.92,295.00 484.58,289.79 486.25,285.00C487.92,280.21 489.58,275.21 491.25,271.25C492.92,267.29 494.58,264.17 496.25,261.25C497.92,258.33 499.58,256.04 501.25,253.75C502.92,251.46 504.58,249.38 506.25,247.50C507.92,245.62 509.58,243.83 511.25,242.50C512.92,241.17 514.58,240.21 516.25,239.50C517.92,238.79 519.38,238.50 521.25,238.25C523.12,238.00 525.62,237.79 527.50,238.00C529.38,238.21 530.83,238.54 532.50,239.50C534.17,240.46 535.42,241.92 537.50,243.75C539.58,245.58 542.50,248.00 545.00,250.50C547.50,253.00 550.00,255.92 552.50,258.75C555.00,261.58 557.71,265.00 560.00,267.50C562.29,270.00 564.17,272.17 566.25,273.75C568.33,275.33 570.42,276.29 572.50,277.00C574.58,277.71 576.46,277.83 578.75,278.00C581.04,278.17 583.96,277.79 586.25,278.00C588.54,278.21 590.21,278.67 592.50,279.25C594.79,279.83 597.50,280.75 600.00,281.50C602.50,282.25 605.21,283.08 607.50,283.75C609.79,284.42 611.96,285.00 613.75,285.50C615.54,286.00 617.50,286.54 618.25,286.75" stroke="#ff00ff" stroke-width="1.8" fill="none" stroke-linejoin="round"/>
<path d="M88.75,253.00C89.88,252.82 97.12,251.60 100.00,251.25C102.88,250.90 115.12,249.88 117.50,249.50C119.88,249.12 122.62,247.82 123.75,247.50C124.88,247.18 127.62,246.20 128.75,246.25C129.88,246.30 133.88,247.93 135.00,248.00C136.12,248.07 138.88,247.28 140.00,247.00C141.12,246.72 145.00,245.43 146.25,245.25C147.50,245.07 151.25,245.12 152.50,245.25C153.75,245.38 157.50,246.30 158.75,246.50C160.00,246.70 163.50,247.28 165.00,247.25C166.50,247.22 172.12,246.28 173.75,246.25C175.38,246.22 179.62,247.07 181.25,247.00C182.88,246.93 188.38,245.72 190.00,245.50C191.62,245.28 196.12,244.90 197.50,244.75C198.88,244.60 202.50,244.15 203.75,244.00C205.00,243.85 208.75,243.47 210.00,243.25C211.25,243.03 215.00,242.00 216.25,241.75C217.50,241.50 221.25,240.85 222.50,240.75C223.75,240.65 227.50,240.53 228.75,240.75C230.00,240.97 233.93,242.53 235.00,243.00C236.07,243.47 238.62,244.68 239.50,245.50C240.38,246.32 242.82,249.68 243.75,251.25C244.68,252.82 247.75,258.75 248.75,261.25C249.75,263.75 252.88,273.62 253.75,276.25C254.62,278.88 256.68,285.07 257.50,287.50C258.32,289.93 261.00,298.88 262.00,300.50C263.00,302.12 266.32,303.55 267.50,303.75C268.68,303.95 272.50,302.75 273.75,302.50C275.00,302.25 278.88,301.35 280.00,301.25C281.12,301.15 284.00,302.00 285.00,301.50C286.00,301.00 289.00,297.65 290.00,296.25C291.00,294.85 293.88,289.62 295.00,287.50C296.12,285.38 300.62,276.25 301.25,275.00" stroke="#000" stroke-width="1.85" fill="none" stroke-linejoin="round"/>
<path d="M326.25,270.50C326.62,269.70 329.25,263.93 330.00,262.50C330.75,261.07 333.00,257.38 333.75,256.25C334.50,255.12 336.62,252.18 337.50,251.25C338.38,250.32 341.38,247.82 342.50,247.00C343.62,246.18 347.50,243.57 348.75,243.00C350.00,242.43 353.75,241.55 355.00,241.25C356.25,240.95 360.00,240.25 361.25,240.00C362.50,239.75 366.25,239.05 367.50,238.75C368.75,238.45 372.62,237.25 373.75,237.00C374.88,236.75 377.75,236.25 378.75,236.25C379.75,236.25 382.75,236.75 383.75,237.00C384.75,237.25 387.62,238.32 388.75,238.75C389.88,239.18 393.88,240.12 395.00,241.25C396.12,242.38 399.00,247.88 400.00,250.00C401.00,252.12 404.00,259.75 405.00,262.50C406.00,265.25 409.00,274.50 410.00,277.50C411.00,280.50 414.00,289.62 415.00,292.50C416.00,295.38 419.00,303.75 420.00,306.25C421.00,308.75 424.00,315.88 425.00,317.50C426.00,319.12 428.88,321.20 430.00,322.50C431.12,323.80 435.00,329.38 436.25,330.50C437.50,331.62 441.25,333.15 442.50,333.75C443.75,334.35 447.62,336.23 448.75,336.50C449.88,336.77 452.62,336.40 453.75,336.50C454.88,336.60 458.75,337.90 460.00,337.50C461.25,337.10 465.12,333.55 466.25,332.50C467.38,331.45 470.25,328.50 471.25,327.00C472.25,325.50 475.25,319.57 476.25,317.50C477.25,315.43 480.25,308.62 481.25,306.25C482.25,303.88 485.25,296.25 486.25,293.75C487.25,291.25 490.25,283.50 491.25,281.25C492.25,279.00 495.25,273.12 496.25,271.25C497.25,269.38 500.25,264.12 501.25,262.50C502.25,260.88 505.25,256.70 506.25,255.00C507.25,253.30 510.25,246.88 511.25,245.50C512.25,244.12 515.12,241.90 516.25,241.25C517.38,240.60 521.17,239.32 522.50,239.00C523.83,238.68 528.25,237.53 529.50,238.00C530.75,238.47 533.95,242.43 535.00,243.75C536.05,245.07 538.88,249.75 540.00,251.25C541.12,252.75 545.00,257.00 546.25,258.75C547.50,260.50 551.12,266.57 552.50,268.75C553.88,270.93 558.62,278.80 560.00,280.50C561.38,282.20 564.62,284.80 566.25,285.75C567.88,286.70 574.50,289.07 576.25,290.00C578.00,290.93 582.12,294.12 583.75,295.00C585.38,295.88 590.88,298.12 592.50,298.75C594.12,299.38 598.50,300.75 600.00,301.25C601.50,301.75 606.12,303.23 607.50,303.75C608.88,304.27 612.67,306.12 613.75,306.50C614.83,306.88 617.80,307.40 618.25,307.50" stroke="#000" stroke-width="1.85" fill="none" stroke-linejoin="round"/>
<path d="M127.50,421.32L128.20,422.60L128.90,422.27L129.60,422.54L130.30,422.72L131.00,422.03L131.70,422.40L132.40,421.00L133.10,422.29L133.80,421.81L134.50,422.15L135.20,421.03L135.90,422.13L136.60,422.40L137.30,420.78L138.00,421.19L138.70,421.57L139.40,421.99L140.10,420.88L140.80,420.71L141.50,420.90L142.20,421.84L142.90,422.37L143.60,422.00L144.30,422.23L145.00,422.56L145.70,422.76L146.40,423.14L147.10,422.74L147.80,423.68L148.50,424.73L149.20,423.92L149.90,424.72L150.60,423.86L151.30,425.01L152.00,425.32L152.70,425.35L153.40,425.21L154.10,425.29L154.80,425.72L155.50,426.32L156.20,425.11L156.90,425.15L157.60,426.47L158.30,426.91L159.00,426.33L159.70,426.34L160.40,426.95L161.10,426.08L161.80,426.32L162.50,426.29L163.20,427.08L163.90,426.69L164.60,426.63L165.30,427.55L166.00,428.12L166.70,427.03L167.40,427.86L168.10,427.42L168.80,428.31L169.50,427.92L170.20,427.44L170.90,427.45L171.60,427.19L172.30,428.10L173.00,428.02L173.70,427.74L174.40,428.17L175.10,428.19L175.80,429.10L176.50,428.06L177.20,429.68L177.90,428.85L178.60,429.16L179.30,429.02L180.00,429.77L180.70,429.84L181.40,429.46L182.10,429.41L182.80,429.89L183.50,430.11L184.20,429.26L184.90,429.84L185.60,430.23L186.30,429.31L187.00,428.86L187.70,428.85L188.40,429.70L189.10,429.60L189.80,430.08L190.50,430.04L191.20,429.15L191.90,429.26L192.60,429.60L193.30,429.68L194.00,430.82L194.70,431.31L195.40,431.59L196.10,430.64L196.80,431.95L197.50,431.16L198.20,431.14L198.90,431.46L199.60,430.08L200.30,429.87L201.00,430.98L201.70,429.78L202.40,429.67L203.10,429.85L203.80,429.80L204.50,428.37L205.20,428.74L205.90,428.70L206.60,428.56L207.30,427.84L208.00,428.29L208.70,428.74L209.40,427.50L210.10,427.58L210.80,426.81L211.50,427.09L212.20,427.80L212.90,426.80L213.60,428.20L214.30,428.24L215.00,426.77L215.70,428.29L216.40,427.27L217.10,427.99L217.80,427.96L218.50,427.13L219.20,427.82L219.90,427.78L220.60,428.05L221.30,427.08L222.00,427.96L222.70,428.37L223.40,427.99L224.10,427.89L224.80,427.26L225.50,428.09L226.20,427.97L226.90,428.77L227.60,428.84L228.30,428.78L229.00,428.28L229.70,429.40L230.40,429.67L231.10,429.14L231.80,430.71L232.50,430.57L233.20,429.94L233.90,431.83L234.60,430.84L235.30,431.61L236.00,432.74L236.25,432.50" stroke="#ff00ff" stroke-width="2.3" fill="none" stroke-linejoin="round"/>
<path d="M236.25,432.50C237.08,433.33 239.58,434.58 241.25,437.50C242.92,440.42 244.58,445.00 246.25,450.00C247.92,455.00 249.58,461.04 251.25,467.50C252.92,473.96 254.58,481.88 256.25,488.75C257.92,495.62 259.79,504.17 261.25,508.75C262.71,513.33 263.96,514.79 265.00,516.25C266.04,517.71 266.46,517.71 267.50,517.50C268.54,517.29 269.58,515.83 271.25,515.00C272.92,514.17 275.42,513.04 277.50,512.50C279.58,511.96 281.67,511.96 283.75,511.75C285.83,511.54 288.12,513.00 290.00,511.25C291.88,509.50 293.33,504.88 295.00,501.25C296.67,497.62 298.54,492.54 300.00,489.50C301.46,486.46 302.50,484.46 303.75,483.00C305.00,481.54 306.38,480.83 307.50,480.75C308.62,480.67 309.46,481.17 310.50,482.50C311.54,483.83 312.67,486.17 313.75,488.75C314.83,491.33 315.96,495.71 317.00,498.00C318.04,500.29 319.08,502.38 320.00,502.50C320.92,502.62 321.67,501.46 322.50,498.75C323.33,496.04 323.96,491.04 325.00,486.25C326.04,481.46 327.50,474.71 328.75,470.00C330.00,465.29 331.04,461.42 332.50,458.00C333.96,454.58 335.83,451.75 337.50,449.50C339.17,447.25 340.83,445.96 342.50,444.50C344.17,443.04 345.83,441.71 347.50,440.75C349.17,439.79 350.83,439.08 352.50,438.75C354.17,438.42 355.42,438.62 357.50,438.75C359.58,438.88 362.50,439.50 365.00,439.50C367.50,439.50 370.00,438.88 372.50,438.75C375.00,438.62 377.92,438.54 380.00,438.75C382.08,438.96 383.33,439.58 385.00,440.00C386.67,440.42 388.12,439.79 390.00,441.25C391.88,442.71 394.38,445.83 396.25,448.75C398.12,451.67 399.58,454.79 401.25,458.75C402.92,462.71 404.58,467.71 406.25,472.50C407.92,477.29 409.58,482.71 411.25,487.50C412.92,492.29 414.58,497.00 416.25,501.25C417.92,505.50 419.58,509.46 421.25,513.00C422.92,516.54 424.58,519.67 426.25,522.50C427.92,525.33 429.58,527.92 431.25,530.00C432.92,532.08 434.38,533.46 436.25,535.00C438.12,536.54 440.42,538.29 442.50,539.25C444.58,540.21 446.67,540.54 448.75,540.75C450.83,540.96 452.92,540.67 455.00,540.50C457.08,540.33 459.38,540.17 461.25,539.75C463.12,539.33 464.58,538.92 466.25,538.00C467.92,537.08 469.58,536.21 471.25,534.25C472.92,532.29 474.58,529.46 476.25,526.25C477.92,523.04 479.58,519.17 481.25,515.00C482.92,510.83 484.58,505.62 486.25,501.25C487.92,496.88 489.58,492.71 491.25,488.75C492.92,484.79 494.58,480.96 496.25,477.50C497.92,474.04 499.58,470.92 501.25,468.00C502.92,465.08 504.58,462.38 506.25,460.00C507.92,457.62 509.58,455.42 511.25,453.75C512.92,452.08 514.58,451.00 516.25,450.00C517.92,449.00 519.58,448.21 521.25,447.75C522.92,447.29 524.58,447.04 526.25,447.25C527.92,447.46 529.38,447.62 531.25,449.00C533.12,450.38 535.21,452.83 537.50,455.50C539.79,458.17 542.50,461.75 545.00,465.00C547.50,468.25 550.00,471.75 552.50,475.00C555.00,478.25 557.71,481.92 560.00,484.50C562.29,487.08 564.17,488.88 566.25,490.50C568.33,492.12 570.42,493.46 572.50,494.25C574.58,495.04 576.46,495.01 578.75,495.25C581.04,495.49 583.96,495.43 586.25,495.70C588.54,495.97 590.21,496.35 592.50,496.90C594.79,497.45 597.50,498.32 600.00,499.00C602.50,499.68 605.21,500.42 607.50,501.00C609.79,501.58 611.96,502.12 613.75,502.50C615.54,502.88 617.50,503.12 618.25,503.25" stroke="#ff00ff" stroke-width="1.8" fill="none" stroke-linejoin="round"/>
<path d="M88.75,423.75C90.62,423.67 95.21,423.46 100.00,423.25C104.79,423.04 113.54,422.96 117.50,422.50C121.46,422.04 121.88,421.00 123.75,420.50C125.62,420.00 126.88,419.38 128.75,419.50C130.62,419.62 133.12,420.96 135.00,421.25C136.88,421.54 138.12,421.46 140.00,421.25C141.88,421.04 144.38,420.08 146.25,420.00C148.12,419.92 149.38,420.21 151.25,420.75C153.12,421.29 155.21,422.29 157.50,423.25C159.79,424.21 162.29,425.50 165.00,426.50C167.71,427.50 171.04,428.58 173.75,429.25C176.46,429.92 178.54,430.33 181.25,430.50C183.96,430.67 187.29,430.42 190.00,430.25C192.71,430.08 195.21,430.04 197.50,429.50C199.79,428.96 201.67,427.83 203.75,427.00C205.83,426.17 207.92,425.21 210.00,424.50C212.08,423.79 214.17,423.17 216.25,422.75C218.33,422.33 220.42,421.92 222.50,422.00C224.58,422.08 226.67,422.25 228.75,423.25C230.83,424.25 233.21,426.38 235.00,428.00C236.79,429.62 238.04,430.58 239.50,433.00C240.96,435.42 242.21,438.00 243.75,442.50C245.29,447.00 247.08,453.75 248.75,460.00C250.42,466.25 252.29,474.17 253.75,480.00C255.21,485.83 256.12,490.08 257.50,495.00C258.88,499.92 260.33,506.29 262.00,509.50C263.67,512.71 265.54,513.58 267.50,514.25C269.46,514.92 271.67,513.79 273.75,513.50C275.83,513.21 278.12,512.58 280.00,512.50C281.88,512.42 283.33,513.54 285.00,513.00C286.67,512.46 288.33,511.42 290.00,509.25C291.67,507.08 293.12,503.62 295.00,500.00C296.88,496.38 300.21,489.58 301.25,487.50" stroke="#000" stroke-width="1.85" fill="none" stroke-linejoin="round"/>
<path d="M326.25,482.50C326.88,480.62 328.54,475.08 330.00,471.25C331.46,467.42 333.33,462.71 335.00,459.50C336.67,456.29 338.33,454.17 340.00,452.00C341.67,449.83 343.33,448.00 345.00,446.50C346.67,445.00 348.33,443.88 350.00,443.00C351.67,442.12 353.33,441.75 355.00,441.25C356.67,440.75 358.12,440.29 360.00,440.00C361.88,439.71 364.17,439.83 366.25,439.50C368.33,439.17 370.54,438.42 372.50,438.00C374.46,437.58 376.12,436.92 378.00,437.00C379.88,437.08 381.96,437.88 383.75,438.50C385.54,439.12 386.88,439.04 388.75,440.75C390.62,442.46 393.12,445.54 395.00,448.75C396.88,451.96 398.33,455.62 400.00,460.00C401.67,464.38 403.33,469.79 405.00,475.00C406.67,480.21 408.33,486.25 410.00,491.25C411.67,496.25 413.33,500.62 415.00,505.00C416.67,509.38 418.33,513.83 420.00,517.50C421.67,521.17 423.33,524.50 425.00,527.00C426.67,529.50 428.33,530.83 430.00,532.50C431.67,534.17 433.12,535.67 435.00,537.00C436.88,538.33 439.17,539.58 441.25,540.50C443.33,541.42 445.42,542.12 447.50,542.50C449.58,542.88 451.67,542.71 453.75,542.75C455.83,542.79 457.92,543.08 460.00,542.75C462.08,542.42 464.38,541.71 466.25,540.75C468.12,539.79 469.58,538.79 471.25,537.00C472.92,535.21 474.58,532.62 476.25,530.00C477.92,527.38 479.58,524.58 481.25,521.25C482.92,517.92 484.58,513.96 486.25,510.00C487.92,506.04 489.58,501.46 491.25,497.50C492.92,493.54 494.58,489.79 496.25,486.25C497.92,482.71 499.58,479.46 501.25,476.25C502.92,473.04 504.58,470.04 506.25,467.00C507.92,463.96 509.58,460.50 511.25,458.00C512.92,455.50 514.58,453.50 516.25,452.00C517.92,450.50 519.58,449.67 521.25,449.00C522.92,448.33 524.79,448.00 526.25,448.00C527.71,448.00 528.54,447.92 530.00,449.00C531.46,450.08 533.33,452.00 535.00,454.50C536.67,457.00 538.12,460.38 540.00,464.00C541.88,467.62 544.17,472.33 546.25,476.25C548.33,480.17 550.42,484.17 552.50,487.50C554.58,490.83 556.67,493.88 558.75,496.25C560.83,498.62 562.92,500.21 565.00,501.75C567.08,503.29 568.75,504.46 571.25,505.50C573.75,506.54 577.29,507.17 580.00,508.00C582.71,508.83 585.00,509.75 587.50,510.50C590.00,511.25 592.71,511.83 595.00,512.50C597.29,513.17 599.17,513.83 601.25,514.50C603.33,515.17 605.42,515.79 607.50,516.50C609.58,517.21 611.96,518.17 613.75,518.75C615.54,519.33 617.50,519.79 618.25,520.00" stroke="#000" stroke-width="1.85" fill="none" stroke-linejoin="round"/>
<path d="M127.50,618.16L128.20,618.11L128.90,618.28L129.60,618.00L130.30,617.79L131.00,617.60L131.70,617.45L132.40,618.51L133.10,618.59L133.80,618.28L134.50,618.62L135.20,618.00L135.90,617.79L136.60,617.90L137.30,618.62L138.00,617.22L138.70,617.89L139.40,617.41L140.10,618.16L140.80,617.39L141.50,617.24L142.20,617.24L142.90,617.35L143.60,617.61L144.30,616.83L145.00,617.51L145.70,616.22L146.40,616.38L147.10,616.08L147.80,616.07L148.50,617.11L149.20,617.00L149.90,616.10L150.60,616.08L151.30,616.41L152.00,616.91L152.70,617.02L153.40,616.97L154.10,616.78L154.80,616.12L155.50,616.58L156.20,616.31L156.90,616.90L157.60,617.02L158.30,616.49L159.00,616.60L159.70,617.45L160.40,616.25L161.10,617.49L161.80,617.63L162.50,617.72L163.20,616.81L163.90,617.08L164.60,617.13L165.30,617.19L166.00,617.68L166.70,617.16L167.40,616.49L168.10,617.33L168.80,616.67L169.50,616.80L170.20,616.95L170.90,615.73L171.60,616.93L172.30,616.76L173.00,616.49L173.70,616.54L174.40,616.44L175.10,616.01L175.80,616.55L176.50,615.76L177.20,616.50L177.90,616.73L178.60,616.41L179.30,616.61L180.00,617.23L180.70,617.13L181.40,615.92L182.10,616.97L182.80,616.70L183.50,615.78L184.20,616.28L184.90,616.07L185.60,615.78L186.30,616.48L187.00,617.05L187.70,616.04L188.40,616.87L189.10,616.54L189.80,615.59L190.50,616.71L191.20,616.25L191.90,616.72L192.60,616.34L193.30,616.33L194.00,615.65L194.70,616.34L195.40,616.50L196.10,616.34L196.80,615.61L197.50,616.08L198.20,615.60L198.90,614.95L199.60,614.79L200.30,614.78L201.00,614.89L201.70,614.73L202.40,615.18L203.10,615.41L203.80,615.05L204.50,614.78L205.20,615.05L205.90,614.40L206.60,614.56L207.30,614.94L208.00,614.26L208.70,613.80L209.40,614.84L210.10,614.44L210.80,613.76L211.50,613.65L212.20,613.79L212.90,613.79L213.60,613.08L214.30,612.63L215.00,612.87L215.70,613.69L216.40,612.58L217.10,612.99L217.80,612.47L218.50,612.40L219.20,612.25L219.90,612.53L220.60,612.06L221.30,611.74L222.00,611.88L222.70,611.97L223.40,612.48L224.10,611.80L224.80,611.74L225.50,612.42L226.20,612.35L226.90,612.83L227.60,611.79L228.30,612.42L229.00,612.47L229.70,611.94L230.40,613.51L231.10,612.38L231.80,612.24L232.50,612.91L233.20,612.53L233.90,613.47L234.60,613.25L235.30,613.11L236.00,613.21L236.25,614.00" stroke="#ff00ff" stroke-width="2.3" fill="none" stroke-linejoin="round"/>
<path d="M236.25,614.00C237.08,614.38 239.58,614.83 241.25,616.25C242.92,617.67 244.58,619.58 246.25,622.50C247.92,625.42 249.58,629.17 251.25,633.75C252.92,638.33 254.58,644.58 256.25,650.00C257.92,655.42 259.79,662.50 261.25,666.25C262.71,670.00 263.96,671.29 265.00,672.50C266.04,673.71 266.46,673.71 267.50,673.50C268.54,673.29 269.58,672.12 271.25,671.25C272.92,670.38 275.42,669.00 277.50,668.25C279.58,667.50 281.67,667.21 283.75,666.75C285.83,666.29 288.12,667.38 290.00,665.50C291.88,663.62 293.33,659.04 295.00,655.50C296.67,651.96 298.54,646.96 300.00,644.25C301.46,641.54 302.50,640.38 303.75,639.25C305.00,638.12 306.38,637.58 307.50,637.50C308.62,637.42 309.46,637.62 310.50,638.75C311.54,639.88 312.67,641.96 313.75,644.25C314.83,646.54 315.96,650.50 317.00,652.50C318.04,654.50 319.08,656.17 320.00,656.25C320.92,656.33 321.67,655.50 322.50,653.00C323.33,650.50 323.96,645.29 325.00,641.25C326.04,637.21 327.50,632.08 328.75,628.75C330.00,625.42 331.04,623.46 332.50,621.25C333.96,619.04 335.83,616.96 337.50,615.50C339.17,614.04 340.83,613.33 342.50,612.50C344.17,611.67 345.83,611.04 347.50,610.50C349.17,609.96 350.42,609.54 352.50,609.25C354.58,608.96 357.50,608.92 360.00,608.75C362.50,608.58 365.00,608.46 367.50,608.25C370.00,608.04 372.50,607.62 375.00,607.50C377.50,607.38 380.00,607.42 382.50,607.50C385.00,607.58 387.71,607.58 390.00,608.00C392.29,608.42 394.38,608.62 396.25,610.00C398.12,611.38 399.58,613.54 401.25,616.25C402.92,618.96 404.58,622.50 406.25,626.25C407.92,630.00 409.58,634.38 411.25,638.75C412.92,643.12 414.58,648.12 416.25,652.50C417.92,656.88 419.58,661.04 421.25,665.00C422.92,668.96 424.58,672.83 426.25,676.25C427.92,679.67 429.58,682.79 431.25,685.50C432.92,688.21 434.38,690.42 436.25,692.50C438.12,694.58 440.42,696.75 442.50,698.00C444.58,699.25 446.67,699.75 448.75,700.00C450.83,700.25 452.92,699.75 455.00,699.50C457.08,699.25 459.38,699.04 461.25,698.50C463.12,697.96 464.58,697.46 466.25,696.25C467.92,695.04 469.58,693.75 471.25,691.25C472.92,688.75 474.58,685.42 476.25,681.25C477.92,677.08 479.58,671.46 481.25,666.25C482.92,661.04 484.58,655.00 486.25,650.00C487.92,645.00 489.58,640.33 491.25,636.25C492.92,632.17 494.58,628.54 496.25,625.50C497.92,622.46 499.58,620.25 501.25,618.00C502.92,615.75 504.58,613.67 506.25,612.00C507.92,610.33 509.58,609.08 511.25,608.00C512.92,606.92 514.38,606.17 516.25,605.50C518.12,604.83 520.42,604.33 522.50,604.00C524.58,603.67 526.88,603.25 528.75,603.50C530.62,603.75 532.29,604.62 533.75,605.50C535.21,606.38 535.62,607.08 537.50,608.75C539.38,610.42 542.50,613.00 545.00,615.50C547.50,618.00 550.00,621.00 552.50,623.75C555.00,626.50 557.71,629.71 560.00,632.00C562.29,634.29 564.17,636.08 566.25,637.50C568.33,638.92 570.42,639.88 572.50,640.50C574.58,641.12 576.46,641.08 578.75,641.25C581.04,641.42 583.96,641.25 586.25,641.50C588.54,641.75 590.21,642.17 592.50,642.75C594.79,643.33 597.50,644.29 600.00,645.00C602.50,645.71 605.21,646.42 607.50,647.00C609.79,647.58 611.96,648.12 613.75,648.50C615.54,648.88 617.50,649.12 618.25,649.25" stroke="#ff00ff" stroke-width="1.8" fill="none" stroke-linejoin="round"/>
<path d="M88.75,621.25C89.88,621.12 97.88,620.23 100.00,620.00C102.12,619.77 108.25,619.00 110.00,619.00C111.75,619.00 116.12,620.10 117.50,620.00C118.88,619.90 122.62,618.30 123.75,618.00C124.88,617.70 127.62,617.00 128.75,617.00C129.88,617.00 133.88,617.95 135.00,618.00C136.12,618.05 138.88,617.67 140.00,617.50C141.12,617.33 145.00,616.40 146.25,616.25C147.50,616.10 151.25,615.92 152.50,616.00C153.75,616.08 157.50,616.85 158.75,617.00C160.00,617.15 163.75,617.55 165.00,617.50C166.25,617.45 170.25,616.80 171.25,616.50C172.25,616.20 174.25,614.40 175.00,614.50C175.75,614.60 177.75,617.15 178.75,617.50C179.75,617.85 183.62,618.05 185.00,618.00C186.38,617.95 191.00,617.15 192.50,617.00C194.00,616.85 198.50,616.62 200.00,616.50C201.50,616.38 206.12,616.00 207.50,615.75C208.88,615.50 212.38,614.30 213.75,614.00C215.12,613.70 219.88,612.92 221.25,612.75C222.62,612.58 226.25,612.17 227.50,612.25C228.75,612.33 232.55,613.10 233.75,613.50C234.95,613.90 238.50,615.60 239.50,616.25C240.50,616.90 242.82,618.62 243.75,620.00C244.68,621.38 247.75,627.50 248.75,630.00C249.75,632.50 252.88,642.38 253.75,645.00C254.62,647.62 256.68,654.12 257.50,656.25C258.32,658.38 261.00,664.83 262.00,666.25C263.00,667.67 266.32,670.23 267.50,670.50C268.68,670.77 272.50,669.25 273.75,669.00C275.00,668.75 278.82,668.20 280.00,668.00C281.18,667.80 284.50,667.55 285.50,667.00C286.50,666.45 289.05,663.95 290.00,662.50C290.95,661.05 293.88,654.62 295.00,652.50C296.12,650.38 300.62,642.38 301.25,641.25" stroke="#000" stroke-width="1.85" fill="none" stroke-linejoin="round"/>
<path d="M326.25,638.00C326.62,637.20 329.25,631.30 330.00,630.00C330.75,628.70 332.88,626.00 333.75,625.00C334.62,624.00 337.75,620.92 338.75,620.00C339.75,619.08 342.62,616.45 343.75,615.75C344.88,615.05 348.88,613.48 350.00,613.00C351.12,612.52 353.88,611.35 355.00,611.00C356.12,610.65 360.00,609.75 361.25,609.50C362.50,609.25 366.25,608.70 367.50,608.50C368.75,608.30 372.62,607.73 373.75,607.50C374.88,607.27 377.88,606.20 378.75,606.25C379.62,606.30 381.43,608.00 382.50,608.00C383.57,608.00 388.25,606.23 389.50,606.25C390.75,606.27 393.95,607.38 395.00,608.25C396.05,609.12 399.00,613.20 400.00,615.00C401.00,616.80 404.00,623.62 405.00,626.25C406.00,628.88 409.00,638.12 410.00,641.25C411.00,644.38 414.00,654.38 415.00,657.50C416.00,660.62 419.00,669.75 420.00,672.50C421.00,675.25 424.00,683.38 425.00,685.00C426.00,686.62 428.88,687.75 430.00,688.75C431.12,689.75 435.00,693.83 436.25,695.00C437.50,696.17 441.25,699.70 442.50,700.50C443.75,701.30 447.62,702.77 448.75,703.00C449.88,703.23 452.62,702.67 453.75,702.75C454.88,702.83 458.75,703.98 460.00,703.75C461.25,703.52 465.12,701.42 466.25,700.50C467.38,699.58 470.25,696.05 471.25,694.50C472.25,692.95 475.25,687.45 476.25,685.00C477.25,682.55 480.25,672.75 481.25,670.00C482.25,667.25 485.25,660.00 486.25,657.50C487.25,655.00 490.25,647.38 491.25,645.00C492.25,642.62 495.25,635.75 496.25,633.75C497.25,631.75 500.25,626.62 501.25,625.00C502.25,623.38 505.25,618.95 506.25,617.50C507.25,616.05 510.12,611.70 511.25,610.50C512.38,609.30 516.25,606.02 517.50,605.50C518.75,604.98 522.50,605.50 523.75,605.25C525.00,605.00 528.88,602.90 530.00,603.00C531.12,603.10 534.00,605.05 535.00,606.25C536.00,607.45 538.88,613.25 540.00,615.00C541.12,616.75 545.00,621.75 546.25,623.75C547.50,625.75 551.12,632.92 552.50,635.00C553.88,637.08 558.62,643.05 560.00,644.50C561.38,645.95 564.62,648.52 566.25,649.50C567.88,650.48 574.50,653.38 576.25,654.25C578.00,655.12 582.12,657.55 583.75,658.25C585.38,658.95 590.88,660.73 592.50,661.25C594.12,661.77 598.50,663.00 600.00,663.50C601.50,664.00 606.12,665.77 607.50,666.25C608.88,666.73 612.67,667.92 613.75,668.25C614.83,668.58 617.80,669.38 618.25,669.50" stroke="#000" stroke-width="1.85" fill="none" stroke-linejoin="round"/>
<path d="M311.10,205.91 L315.00,198.01 L318.90,205.91" stroke="#000" stroke-width="1.7" fill="none" stroke-linejoin="round"/>
<path d="M311.10,389.43 L315.00,381.53 L318.90,389.43" stroke="#000" stroke-width="1.7" fill="none" stroke-linejoin="round"/>
<path d="M311.10,572.94 L315.00,565.04 L318.90,572.94" stroke="#000" stroke-width="1.7" fill="none" stroke-linejoin="round"/>
<path d="M311.10,756.45 L315.00,748.55 L318.90,756.45" stroke="#000" stroke-width="1.7" fill="none" stroke-linejoin="round"/>
<text transform="translate(81.90,206.01) scale(1,1.060)" text-anchor="end" style="font-family:'Liberation Sans',sans-serif;font-size:17.40px;white-space:pre;stroke:#000;stroke-width:0.2px" xml:space="preserve">0.00</text>
<text transform="translate(81.90,187.26) scale(1,1.060)" text-anchor="end" style="font-family:'Liberation Sans',sans-serif;font-size:17.40px;white-space:pre;stroke:#000;stroke-width:0.2px" xml:space="preserve">0.05</text>
<text transform="translate(81.90,159.81) scale(1,1.060)" text-anchor="end" style="font-family:'Liberation Sans',sans-serif;font-size:17.40px;white-space:pre;stroke:#000;stroke-width:0.2px" xml:space="preserve">0.10</text>
<text transform="translate(81.90,132.36) scale(1,1.060)" text-anchor="end" style="font-family:'Liberation Sans',sans-serif;font-size:17.40px;white-space:pre;stroke:#000;stroke-width:0.2px" xml:space="preserve">0.15</text>
<text transform="translate(81.90,104.91) scale(1,1.060)" text-anchor="end" style="font-family:'Liberation Sans',sans-serif;font-size:17.40px;white-space:pre;stroke:#000;stroke-width:0.2px" xml:space="preserve">0.20</text>
<text transform="translate(81.90,77.46) scale(1,1.060)" text-anchor="end" style="font-family:'Liberation Sans',sans-serif;font-size:17.40px;white-space:pre;stroke:#000;stroke-width:0.2px" xml:space="preserve">0.25</text>
<text transform="translate(81.90,50.01) scale(1,1.060)" text-anchor="end" style="font-family:'Liberation Sans',sans-serif;font-size:17.40px;white-space:pre;stroke:#000;stroke-width:0.2px" xml:space="preserve">0.30</text>
<text transform="translate(28.40,114.16) rotate(-90) scale(1,1.060)" text-anchor="middle" style="font-family:'Liberation Sans',sans-serif;font-size:17.40px;white-space:pre;stroke:#000;stroke-width:0.2px" xml:space="preserve">I/F</text>
<text transform="translate(106.30,178.21) scale(1,1.060)" text-anchor="start" style="font-family:'Liberation Sans',sans-serif;font-size:14.45px;white-space:pre;stroke:#000;stroke-width:0.2px" xml:space="preserve">Radius = 130000. km</text>
<text transform="translate(81.90,389.53) scale(1,1.060)" text-anchor="end" style="font-family:'Liberation Sans',sans-serif;font-size:17.40px;white-space:pre;stroke:#000;stroke-width:0.2px" xml:space="preserve">0.00</text>
<text transform="translate(81.90,364.87) scale(1,1.060)" text-anchor="end" style="font-family:'Liberation Sans',sans-serif;font-size:17.40px;white-space:pre;stroke:#000;stroke-width:0.2px" xml:space="preserve">0.02</text>
<text transform="translate(81.90,331.51) scale(1,1.060)" text-anchor="end" style="font-family:'Liberation Sans',sans-serif;font-size:17.40px;white-space:pre;stroke:#000;stroke-width:0.2px" xml:space="preserve">0.04</text>
<text transform="translate(81.90,298.15) scale(1,1.060)" text-anchor="end" style="font-family:'Liberation Sans',sans-serif;font-size:17.40px;white-space:pre;stroke:#000;stroke-width:0.2px" xml:space="preserve">0.06</text>
<text transform="translate(81.90,264.79) scale(1,1.060)" text-anchor="end" style="font-family:'Liberation Sans',sans-serif;font-size:17.40px;white-space:pre;stroke:#000;stroke-width:0.2px" xml:space="preserve">0.08</text>
<text transform="translate(81.90,231.43) scale(1,1.060)" text-anchor="end" style="font-family:'Liberation Sans',sans-serif;font-size:17.40px;white-space:pre;stroke:#000;stroke-width:0.2px" xml:space="preserve">0.10</text>
<text transform="translate(28.40,297.67) rotate(-90) scale(1,1.060)" text-anchor="middle" style="font-family:'Liberation Sans',sans-serif;font-size:17.40px;white-space:pre;stroke:#000;stroke-width:0.2px" xml:space="preserve">I/F</text>
<text transform="translate(106.30,361.73) scale(1,1.060)" text-anchor="start" style="font-family:'Liberation Sans',sans-serif;font-size:14.45px;white-space:pre;stroke:#000;stroke-width:0.2px" xml:space="preserve">Radius = 119200. km</text>
<text transform="translate(81.90,573.04) scale(1,1.060)" text-anchor="end" style="font-family:'Liberation Sans',sans-serif;font-size:17.40px;white-space:pre;stroke:#000;stroke-width:0.2px" xml:space="preserve">0.0</text>
<text transform="translate(81.90,541.84) scale(1,1.060)" text-anchor="end" style="font-family:'Liberation Sans',sans-serif;font-size:17.40px;white-space:pre;stroke:#000;stroke-width:0.2px" xml:space="preserve">0.1</text>
<text transform="translate(81.90,501.94) scale(1,1.060)" text-anchor="end" style="font-family:'Liberation Sans',sans-serif;font-size:17.40px;white-space:pre;stroke:#000;stroke-width:0.2px" xml:space="preserve">0.2</text>
<text transform="translate(81.90,462.04) scale(1,1.060)" text-anchor="end" style="font-family:'Liberation Sans',sans-serif;font-size:17.40px;white-space:pre;stroke:#000;stroke-width:0.2px" xml:space="preserve">0.3</text>
<text transform="translate(81.90,422.14) scale(1,1.060)" text-anchor="end" style="font-family:'Liberation Sans',sans-serif;font-size:17.40px;white-space:pre;stroke:#000;stroke-width:0.2px" xml:space="preserve">0.4</text>
<text transform="translate(39.10,481.18) rotate(-90) scale(1,1.060)" text-anchor="middle" style="font-family:'Liberation Sans',sans-serif;font-size:17.40px;white-space:pre;stroke:#000;stroke-width:0.2px" xml:space="preserve">I/F</text>
<text transform="translate(106.30,545.24) scale(1,1.060)" text-anchor="start" style="font-family:'Liberation Sans',sans-serif;font-size:14.45px;white-space:pre;stroke:#000;stroke-width:0.2px" xml:space="preserve">Radius = 102000. km</text>
<text transform="translate(81.90,756.55) scale(1,1.060)" text-anchor="end" style="font-family:'Liberation Sans',sans-serif;font-size:17.40px;white-space:pre;stroke:#000;stroke-width:0.2px" xml:space="preserve">0.00</text>
<text transform="translate(81.90,738.47) scale(1,1.060)" text-anchor="end" style="font-family:'Liberation Sans',sans-serif;font-size:17.40px;white-space:pre;stroke:#000;stroke-width:0.2px" xml:space="preserve">0.01</text>
<text transform="translate(81.90,711.69) scale(1,1.060)" text-anchor="end" style="font-family:'Liberation Sans',sans-serif;font-size:17.40px;white-space:pre;stroke:#000;stroke-width:0.2px" xml:space="preserve">0.02</text>
<text transform="translate(81.90,684.91) scale(1,1.060)" text-anchor="end" style="font-family:'Liberation Sans',sans-serif;font-size:17.40px;white-space:pre;stroke:#000;stroke-width:0.2px" xml:space="preserve">0.03</text>
<text transform="translate(81.90,658.13) scale(1,1.060)" text-anchor="end" style="font-family:'Liberation Sans',sans-serif;font-size:17.40px;white-space:pre;stroke:#000;stroke-width:0.2px" xml:space="preserve">0.04</text>
<text transform="translate(81.90,631.35) scale(1,1.060)" text-anchor="end" style="font-family:'Liberation Sans',sans-serif;font-size:17.40px;white-space:pre;stroke:#000;stroke-width:0.2px" xml:space="preserve">0.05</text>
<text transform="translate(81.90,604.57) scale(1,1.060)" text-anchor="end" style="font-family:'Liberation Sans',sans-serif;font-size:17.40px;white-space:pre;stroke:#000;stroke-width:0.2px" xml:space="preserve">0.06</text>
<text transform="translate(28.40,664.69) rotate(-90) scale(1,1.060)" text-anchor="middle" style="font-family:'Liberation Sans',sans-serif;font-size:17.40px;white-space:pre;stroke:#000;stroke-width:0.2px" xml:space="preserve">I/F</text>
<text transform="translate(106.30,728.75) scale(1,1.060)" text-anchor="start" style="font-family:'Liberation Sans',sans-serif;font-size:14.45px;white-space:pre;stroke:#000;stroke-width:0.2px" xml:space="preserve">Radius =  89000. km</text>
<text transform="translate(88.45,788.10) scale(1,1.060)" text-anchor="middle" style="font-family:'Liberation Sans',sans-serif;font-size:17.40px;white-space:pre;stroke:#000;stroke-width:0.2px" xml:space="preserve">1.0</text>
<text transform="translate(159.08,788.10) scale(1,1.060)" text-anchor="middle" style="font-family:'Liberation Sans',sans-serif;font-size:17.40px;white-space:pre;stroke:#000;stroke-width:0.2px" xml:space="preserve">1.2</text>
<text transform="translate(229.72,788.10) scale(1,1.060)" text-anchor="middle" style="font-family:'Liberation Sans',sans-serif;font-size:17.40px;white-space:pre;stroke:#000;stroke-width:0.2px" xml:space="preserve">1.4</text>
<text transform="translate(300.35,788.10) scale(1,1.060)" text-anchor="middle" style="font-family:'Liberation Sans',sans-serif;font-size:17.40px;white-space:pre;stroke:#000;stroke-width:0.2px" xml:space="preserve">1.6</text>
<text transform="translate(370.98,788.10) scale(1,1.060)" text-anchor="middle" style="font-family:'Liberation Sans',sans-serif;font-size:17.40px;white-space:pre;stroke:#000;stroke-width:0.2px" xml:space="preserve">1.8</text>
<text transform="translate(441.62,788.10) scale(1,1.060)" text-anchor="middle" style="font-family:'Liberation Sans',sans-serif;font-size:17.40px;white-space:pre;stroke:#000;stroke-width:0.2px" xml:space="preserve">2.0</text>
<text transform="translate(512.25,788.10) scale(1,1.060)" text-anchor="middle" style="font-family:'Liberation Sans',sans-serif;font-size:17.40px;white-space:pre;stroke:#000;stroke-width:0.2px" xml:space="preserve">2.2</text>
<text transform="translate(582.88,788.10) scale(1,1.060)" text-anchor="middle" style="font-family:'Liberation Sans',sans-serif;font-size:17.40px;white-space:pre;stroke:#000;stroke-width:0.2px" xml:space="preserve">2.4</text>
<text transform="translate(353.33,814.90) scale(1,1.060)" text-anchor="middle" style="font-family:'Liberation Sans',sans-serif;font-size:17.70px;white-space:pre;stroke:#000;stroke-width:0.2px" xml:space="preserve">wavelength (microns)</text>
</svg>
</body></html>
